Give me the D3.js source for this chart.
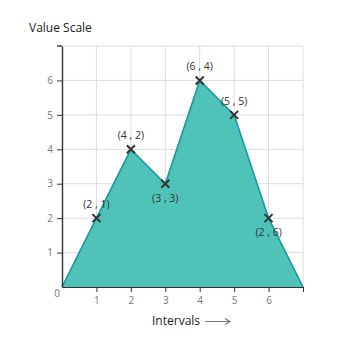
<!DOCTYPE html>
<html><head><meta charset="utf-8">
<script src="https://cdn.jsdelivr.net/npm/d3@7"></script>
<style>body{margin:0;background:#fff}svg{display:block;font-family:"Open Sans",Lato,sans-serif}</style>
</head><body><svg id="c" width="350" height="340"></svg>
<script>
const xValues = [0, 1, 2, 3, 4, 5, 6, 7];
const yValues = [0, 2, 4, 3, 6, 5, 2, 0];
const pointLabels = [null, "(2 , 1)", "(4 , 2)", "(3 , 3)", "(6 , 4)", "(5 , 5)", "(2 , 6)", null];
const labelBelow = [false, false, false, true, false, false, true, false];
const xTicks = [1, 2, 3, 4, 5, 6, 7];
const yTicks = [1, 2, 3, 4, 5, 6, 7];

const svg = d3.select("#c");
const m = {l: 62, r: 47, t: 46, b: 53};
const W = 350 - m.l - m.r, H = 340 - m.t - m.b;
const x = d3.scaleLinear().domain([0, 7]).range([m.l, m.l + W]);
const y = d3.scaleLinear().domain([0, 7]).range([m.t + H, m.t]);
const FONT = "'Open Sans',Lato,sans-serif";

// grid
svg.append("g").selectAll("line").data(xTicks).join("line")
  .attr("x1", d => x(d)).attr("x2", d => x(d)).attr("y1", y(0)).attr("y2", y(7))
  .attr("stroke", "#dcdcdc").attr("stroke-width", 1);
svg.append("g").selectAll("line").data(yTicks).join("line")
  .attr("x1", x(0)).attr("x2", x(7)).attr("y1", d => y(d)).attr("y2", d => y(d))
  .attr("stroke", "#dcdcdc").attr("stroke-width", 1);

const pts = xValues.map((v, i) => [v, yValues[i]]);
svg.append("path").datum(pts)
  .attr("d", d3.area().x(d => x(d[0])).y0(y(0)).y1(d => y(d[1])))
  .attr("fill", "#3dbdb1").attr("fill-opacity", 0.9);
svg.append("path").datum(pts)
  .attr("d", d3.line().x(d => x(d[0])).y(d => y(d[1])))
  .attr("fill", "none").attr("stroke", "#1697a6").attr("stroke-width", 1.6);

// axes
const xAxis = d3.axisBottom(x).tickValues(xTicks).tickSize(5).tickSizeOuter(0).tickFormat(d => d === 7 ? "" : d);
const gx = svg.append("g").attr("transform", `translate(0,${y(0)})`).call(xAxis);
gx.select(".domain").attr("stroke", "#333").attr("stroke-width", 1.2);
gx.selectAll(".tick line").attr("stroke", "#333");
gx.selectAll(".tick text").attr("fill", "#777").attr("font-size", 10).attr("font-family", FONT).attr("dy", "0.9em");

const yAxis = d3.axisLeft(y).tickValues(yTicks.filter(d => d < 7)).tickFormat(d3.format("d")).tickSize(5).tickSizeOuter(0);
const gy = svg.append("g").attr("transform", `translate(${x(0)},0)`).call(yAxis);
gy.select(".domain").attr("stroke", "#333").attr("stroke-width", 1.4);
gy.selectAll(".tick line").attr("stroke", "#333");
gy.selectAll(".tick text").attr("fill", "#777").attr("font-size", 10).attr("font-family", FONT).attr("x", -9);
// top outer tick of y axis
svg.append("line").attr("x1", x(0) - 5).attr("x2", x(0)).attr("y1", y(7)).attr("y2", y(7))
  .attr("stroke", "#333").attr("stroke-width", 1.4);

svg.append("text").attr("x", x(0) - 5).attr("y", y(0) + 10).attr("text-anchor", "middle")
  .attr("fill", "#777").attr("font-size", 10).text("0");

// markers
const mk = svg.append("g").selectAll("g").data(pts.filter((d, i) => pointLabels[i])).join("g")
  .attr("transform", d => `translate(${x(d[0])},${y(d[1])})`);
mk.append("path").attr("d", "M-4,-4L4,4M-4,4L4,-4").attr("stroke", "#333").attr("stroke-width", 2);

svg.append("g").selectAll("text").data(pts.map((d, i) => ({d, i})).filter(o => pointLabels[o.i])).join("text")
  .attr("x", o => x(o.d[0]))
  .attr("y", o => y(o.d[1]) + (labelBelow[o.i] ? 18 : -10))
  .attr("text-anchor", "middle").attr("fill", "#333").attr("font-size", 10.5)
  .text(o => pointLabels[o.i]);

svg.append("text").attr("x", 29).attr("y", 32).attr("fill", "#222").attr("font-size", 12).text("Value Scale");
svg.append("text").attr("x", 152).attr("y", 325).attr("fill", "#222").attr("font-size", 12).text("Intervals");
svg.append("path").attr("d", "M205,321.5H230M225,318.5L230,321.5L225,324.5")
  .attr("stroke", "#777").attr("stroke-width", 1.2).attr("fill", "none");
</script></body></html>
